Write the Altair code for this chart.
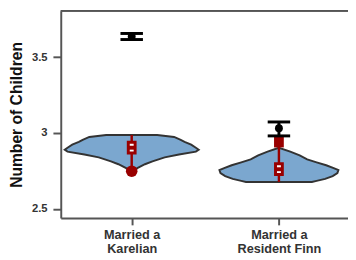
import altair as alt
import pandas as pd

# group positions on the x scale and their labels
group_pos = [1, 2]
group_label_1 = ["Married a", "Karelian"]
group_label_2 = ["Married a", "Resident Finn"]

# violin profiles: y values and half-widths (units of group spacing)
kar_y = [2.987, 2.974, 2.955, 2.942, 2.923, 2.903, 2.890, 2.877, 2.858, 2.839, 2.813, 2.794, 2.768, 2.742]
kar_w = [0.173, 0.288, 0.333, 0.359, 0.404, 0.436, 0.455, 0.436, 0.321, 0.224, 0.141, 0.090, 0.038, 0.0]
fin_y = [2.903, 2.877, 2.852, 2.826, 2.806, 2.787, 2.768, 2.755, 2.735, 2.716, 2.697, 2.684, 2.677]
fin_w = [0.0, 0.077, 0.141, 0.192, 0.256, 0.321, 0.372, 0.404, 0.397, 0.365, 0.314, 0.256, 0.224]

# red (model) summaries
red_line_top = [2.987, 2.981]
red_line_bot = [2.748, 2.677]
red_box_lo = [2.868, 2.726]
red_box_hi = [2.939, 2.797]
red_box_med = [2.903, 2.761]
red_dot = [2.748]          # Karelian only
red_block_lo = [2.905]     # Resident Finn only
red_block_hi = [2.981]

# black (observed) mean and interval
blk_mean = [3.637, 3.032]
blk_lo = [3.617, 2.981]
blk_hi = [3.657, 3.073]

RED = "#990000"
W, H = 294, 212

kar = pd.DataFrame({"y": kar_y, "lo": [1 - w for w in kar_w], "hi": [1 + w for w in kar_w]})
fin = pd.DataFrame({"y": fin_y, "lo": [2 - w for w in fin_w], "hi": [2 + w for w in fin_w]})
summ = pd.DataFrame({
    "x": group_pos,
    "rtop": red_line_top, "rbot": red_line_bot,
    "blo": red_box_lo, "bhi": red_box_hi, "bmed": red_box_med,
    "mean": blk_mean, "lo": blk_lo, "hi": blk_hi,
})
dot = pd.DataFrame({"x": [1], "y": red_dot})
block = pd.DataFrame({"x": [2], "lo": red_block_lo, "hi": red_block_hi})

xscale = alt.Scale(domain=[0.5513, 2.436], nice=False, zero=False)
yscale = alt.Scale(domain=[2.439, 3.806], nice=False, zero=False)

lab_expr = ("datum.value == 1 ? ['" + "','".join(group_label_1) + "'] : ['"
            + "','".join(group_label_2) + "']")

xax = alt.Axis(values=group_pos, labelExpr=lab_expr, title=None, grid=False,
               labelFontSize=13, labelFontWeight="bold", labelColor="#333",
               labelLineHeight=14, labelPadding=4, tickSize=7)
yax = alt.Axis(values=[2.5, 3, 3.5], format="~g", title="Number of Children",
               grid=False, labelFontSize=11.5, labelFontWeight="bold",
               labelColor="#333", labelPadding=6, tickSize=8,
               titleFontSize=16, titleFontWeight="bold", titleColor="#111",
               titlePadding=7)

base_x = alt.X("x:Q", scale=xscale, axis=xax)


def violin(df):
    return alt.Chart(df).mark_area(
        orient="horizontal", fill="#7BA7CF", stroke="#333", strokeWidth=2,
        clip=True, opacity=1
    ).encode(
        y=alt.Y("y:Q", scale=yscale, axis=yax),
        x=alt.X("lo:Q", scale=xscale, axis=xax),
        x2="hi:Q",
    )


rline = alt.Chart(summ).mark_rule(color=RED, strokeWidth=2.5).encode(
    x=base_x, y=alt.Y("rtop:Q", scale=yscale), y2="rbot:Q")

rbox = alt.Chart(summ).mark_bar(orient="vertical", size=7, fill="white",
                                stroke=RED, strokeWidth=3).encode(
    x=base_x, y=alt.Y("blo:Q", scale=yscale), y2="bhi:Q")

rmed = alt.Chart(summ).mark_tick(orient="horizontal", size=8, thickness=4,
                                 color=RED, opacity=1).encode(
    x=base_x, y=alt.Y("bmed:Q", scale=yscale))

rdot = alt.Chart(dot).mark_circle(size=140, color=RED, opacity=1).encode(
    x=base_x, y=alt.Y("y:Q", scale=yscale))

rblock = alt.Chart(block).mark_bar(orient="vertical", size=10, color=RED).encode(
    x=base_x, y=alt.Y("lo:Q", scale=yscale), y2="hi:Q")

bline = alt.Chart(summ).mark_rule(color="black", strokeWidth=3).encode(
    x=base_x, y=alt.Y("lo:Q", scale=yscale), y2="hi:Q")

bcap_lo = alt.Chart(summ).mark_tick(orient="horizontal", size=23, thickness=3,
                                    color="black", opacity=1).encode(
    x=base_x, y=alt.Y("lo:Q", scale=yscale))
bcap_hi = alt.Chart(summ).mark_tick(orient="horizontal", size=23, thickness=3,
                                    color="black", opacity=1).encode(
    x=base_x, y=alt.Y("hi:Q", scale=yscale))

bdot = alt.Chart(summ).mark_circle(size=65, color="black", opacity=1).encode(
    x=base_x, y=alt.Y("mean:Q", scale=yscale))

topline = alt.Chart(summ).mark_rule(color="#555", strokeWidth=2).encode(
    x=alt.value(0), x2=alt.value(W), y=alt.value(0))

chart = alt.layer(
    violin(kar), violin(fin), rline, rbox, rmed, rdot, rblock, bline,
    bcap_lo, bcap_hi, bdot, topline
).properties(
    width=W, height=H,
    autosize=alt.AutoSizeParams(type="none"),
    padding={"left": 54, "top": 0, "right": 0, "bottom": 40},
    background="white",
).configure_view(stroke=None).configure_axis(
    domainColor="#555", domainWidth=2, tickColor="#555", tickWidth=2,
    labelFont="Liberation Sans", titleFont="Liberation Sans",
)

chart.save("out.html", embed_options={"renderer": "svg", "actions": False})
